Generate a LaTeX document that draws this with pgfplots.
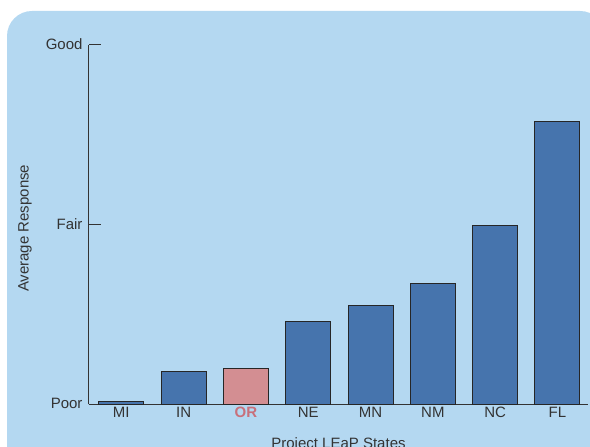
\documentclass[border=0pt]{standalone}
\usepackage{pgfplots}
\pgfplotsset{compat=1.18}
\usepackage{fontspec}
\setmainfont{Liberation Sans}

\definecolor{bgblue}{HTML}{B4D8F1}
\definecolor{barblue}{HTML}{4674AD}
\definecolor{barpink}{HTML}{D38E92}
\definecolor{orlabel}{HTML}{C8707B}
\definecolor{txt}{HTML}{333333}

\begin{document}
\begin{tikzpicture}[x=1pt,y=1pt]
  \useasboundingbox (0,0) rectangle (590,447);
  % rounded panel behind the chart
  \fill[bgblue, rounded corners=25pt] (7,-25) rectangle (605,436);

  \begin{axis}[
      at={(89pt,42.5pt)}, anchor=south west,
      scale only axis,
      width=499pt, height=359.5pt,
      xmin=-0.518, xmax=7.49,
      ymin=0, ymax=2,
      axis x line*=bottom, axis y line*=left,
      axis line style={txt, line width=1pt, -},
      xtick={0,...,7},
      xticklabels={MI,IN,{\textbf{\color{orlabel}OR}},NE,MN,NM,NC,FL},
      ytick={0,1,2},
      yticklabels={Poor,Fair,Good},
      tick align=inside,
      major tick length=12pt,
      x tick style={draw=none},
      y tick style={txt, line width=1pt},
      tick label style={font=\fontsize{15}{18}\selectfont, text=txt},
      yticklabel style={xshift=-3pt, yshift=1pt},
      xticklabel style={yshift=1pt},
      label style={font=\fontsize{15}{18}\selectfont, text=txt},
      xlabel={Project LEaP States},
      xlabel style={at={(axis description cs:0.5,0)}, anchor=north, inner sep=0pt, yshift=-33pt},
      ylabel={Average Response},
      ylabel style={at={(axis description cs:-0.128,0.49)}, anchor=center},
      clip=false,
    ]

    % average response, Poor = 0, Fair = 1, Good = 2
    \addplot[ybar, bar width=45pt, bar shift=0pt, fill=barblue, draw=black!85, line width=1pt]
      coordinates {
        (0,0.016)
        (1,0.185)
        (3,0.461)
        (4,0.553)
        (5,0.671)
        (6,0.998)
        (7,1.576)
      };

    % Oregon highlighted
    \addplot[ybar, bar width=45pt, bar shift=0pt, fill=barpink, draw=black!85, line width=1pt]
      coordinates {
        (2,0.202)
      };

  \end{axis}
\end{tikzpicture}
\end{document}
